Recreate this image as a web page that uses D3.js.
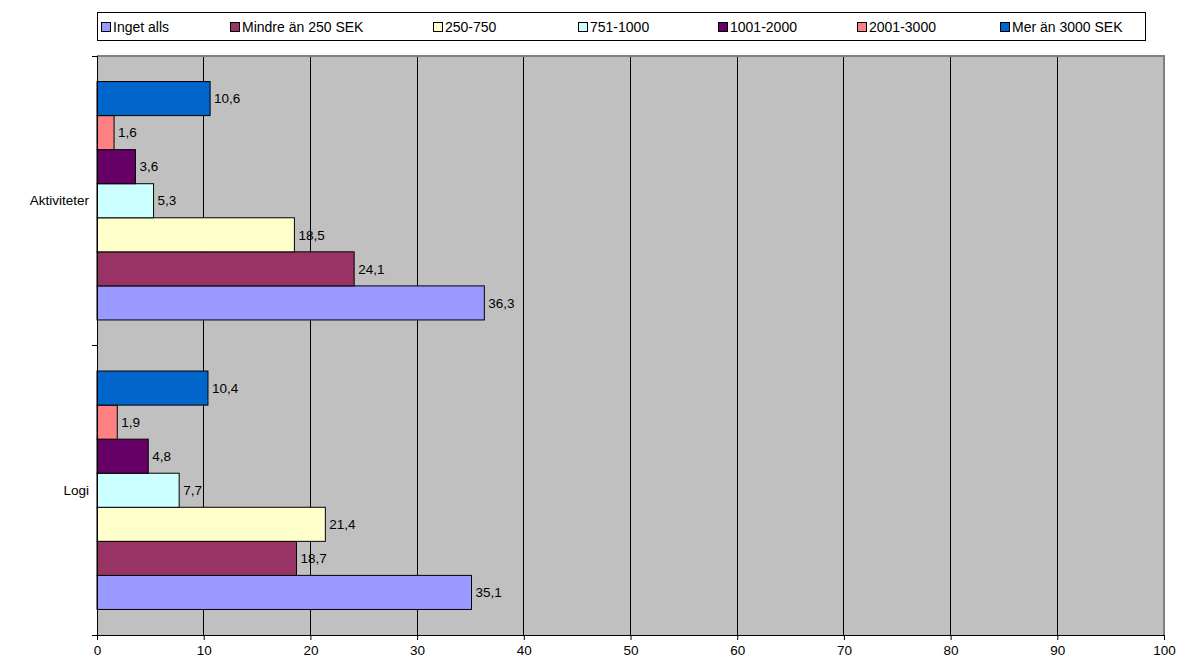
<!DOCTYPE html>
<html>
<head>
<meta charset="utf-8">
<script src="https://cdn.jsdelivr.net/npm/d3@7"></script>
<style>
  body { margin: 0; background: #fff; }
  svg text { font-family: "Liberation Sans", Arial, sans-serif; font-size: 13.5px; fill: #000; }
</style>
</head>
<body>
<div id="chart"></div>
<script>
// data
const categories = ["Aktiviteter", "Logi"];
const seriesNames = ["Inget alls", "Mindre än 250 SEK", "250-750", "751-1000", "1001-2000", "2001-3000", "Mer än 3000 SEK"];
const seriesColors = ["#9999FF", "#993366", "#FFFFCC", "#CCFFFF", "#660066", "#FF8080", "#0066CC"];
const aktiviteterValues = [36.3, 24.1, 18.5, 5.3, 3.6, 1.6, 10.6];
const logiValues = [35.1, 18.7, 21.4, 7.7, 4.8, 1.9, 10.4];
const xTicks = [0, 10, 20, 30, 40, 50, 60, 70, 80, 90, 100];
const legendX = [101, 230, 433, 578, 718, 857, 1000];

const width = 1178, height = 666;
const plot = { left: 97, right: 1164, top: 56, bottom: 635 };

const valuesByCategory = { "Aktiviteter": aktiviteterValues, "Logi": logiValues };

const svg = d3.select("#chart").append("svg")
  .attr("width", width)
  .attr("height", height);

const x = d3.scaleLinear().domain([0, 100]).range([plot.left, plot.right]);
const y = d3.scaleBand().domain(categories).range([plot.top, plot.bottom]).padding(0);
// first series sits at the bottom of each group, like Excel does it
const ySeries = d3.scaleBand()
  .domain(seriesNames.slice().reverse())
  .range([0, y.bandwidth()])
  .paddingInner(0)
  .paddingOuter(0.75);

// plot background
svg.append("rect")
  .attr("x", plot.left).attr("y", plot.top)
  .attr("width", plot.right - plot.left).attr("height", plot.bottom - plot.top)
  .attr("fill", "#C0C0C0");

// gridlines
svg.append("g")
  .selectAll("line")
  .data(xTicks.filter(d => d > 0 && d < 100))
  .enter()
  .append("line")
  .attr("x1", d => x(d)).attr("x2", d => x(d))
  .attr("y1", plot.top).attr("y2", plot.bottom)
  .attr("stroke", "#000").attr("stroke-width", 1)
  .attr("shape-rendering", "crispEdges");

// top and right border in gray
svg.append("path")
  .attr("d", `M${plot.left},${plot.top}H${plot.right}V${plot.bottom}`)
  .attr("fill", "none").attr("stroke", "#808080").attr("stroke-width", 1.5)
  .attr("shape-rendering", "crispEdges");

// bars
const groups = svg.append("g")
  .selectAll("g")
  .data(categories)
  .enter()
  .append("g")
  .attr("transform", d => "translate(0," + y(d) + ")");

const fmt = v => d3.format(".1f")(v).replace(".", ",");

groups.selectAll("rect")
  .data(c => valuesByCategory[c].map((v, i) => ({ name: seriesNames[i], value: v, color: seriesColors[i] })))
  .enter()
  .append("rect")
  .attr("x", x(0))
  .attr("y", d => ySeries(d.name))
  .attr("width", d => x(d.value) - x(0))
  .attr("height", ySeries.bandwidth())
  .attr("fill", d => d.color)
  .attr("stroke", "#000")
  .attr("stroke-width", 1);

groups.selectAll("text")
  .data(c => valuesByCategory[c].map((v, i) => ({ name: seriesNames[i], value: v })))
  .enter()
  .append("text")
  .attr("x", d => x(d.value) + 4)
  .attr("y", d => ySeries(d.name) + ySeries.bandwidth() / 2)
  .attr("dy", "0.35em")
  .text(d => fmt(d.value));

// x axis
const xAxis = svg.append("g")
  .attr("transform", "translate(0," + plot.bottom + ")")
  .call(d3.axisBottom(x).tickValues(xTicks).tickSize(5).tickPadding(5).tickFormat(d3.format("d")));
xAxis.select(".domain").attr("stroke", "#000").attr("d", `M${plot.left - 5},0.5H${plot.right}`);
xAxis.selectAll("text").attr("font-size", null).attr("font-family", null);

// y axis
const yAxis = svg.append("g")
  .attr("transform", "translate(" + plot.left + ",0)")
  .call(d3.axisLeft(y).tickSize(0).tickPadding(8));
yAxis.select(".domain").attr("stroke", "#000").attr("d", `M0.5,${plot.top}V${plot.bottom}`);
yAxis.selectAll("text").attr("font-family", null);
yAxis.attr("font-size", null);
xAxis.attr("font-size", null);
yAxis.selectAll(".edge")
  .data([plot.top, plot.top + y.bandwidth(), plot.bottom])
  .enter()
  .append("line")
  .attr("x1", -5).attr("x2", 0)
  .attr("y1", d => d).attr("y2", d => d)
  .attr("stroke", "#000")
  .attr("shape-rendering", "crispEdges");

// legend
const legend = svg.append("g");
legend.append("rect")
  .attr("x", 97.5).attr("y", 12.5)
  .attr("width", 1048).attr("height", 28)
  .attr("fill", "#fff").attr("stroke", "#000");

const items = legend.selectAll(".item")
  .data(seriesNames)
  .enter()
  .append("g")
  .attr("transform", (d, i) => "translate(" + legendX[i] + ",27)");

items.append("rect")
  .attr("x", 0.5).attr("y", -4.5)
  .attr("width", 9).attr("height", 9)
  .attr("fill", (d, i) => seriesColors[i])
  .attr("stroke", "#000");

items.append("text")
  .attr("x", 12)
  .attr("dy", "0.35em")
  .style("font-size", "14px")
  .text(d => d);
</script>
</body>
</html>
